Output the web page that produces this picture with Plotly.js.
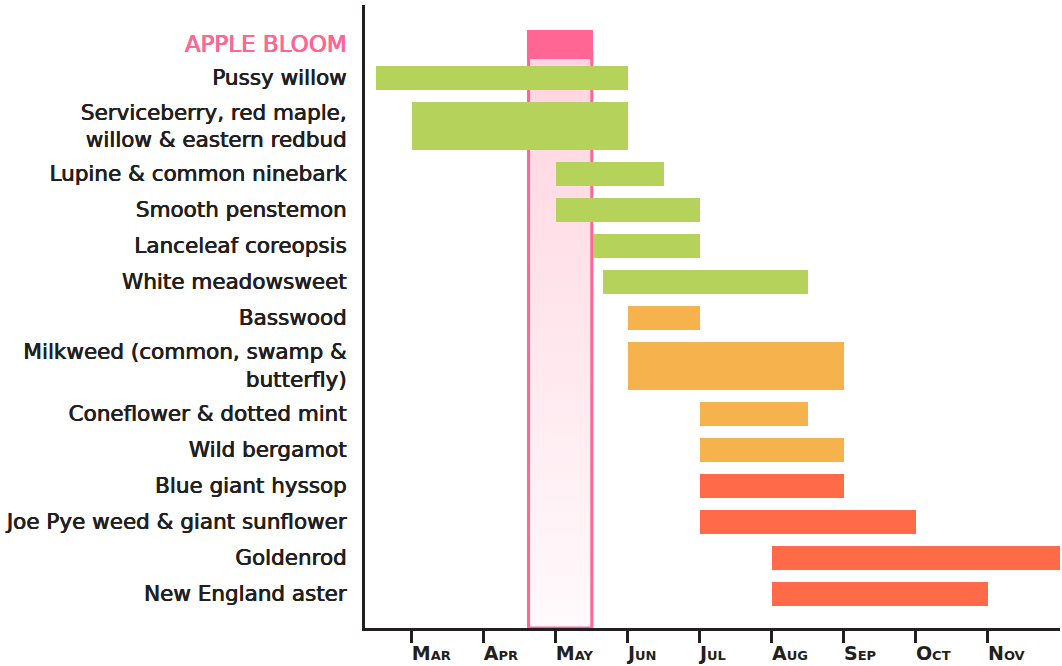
<!DOCTYPE html>
<html><head><meta charset="utf-8">
<script src="https://cdn.plot.ly/plotly-3.0.1.min.js"></script>
<style>html,body{margin:0;padding:0;background:#fff}</style>
</head><body>
<div id="chart" style="width:1062px;height:666px"></div>
<script>
// ---- data ----
const plants = [
  "APPLE BLOOM",
  "Pussy willow",
  "Serviceberry, red maple,<br>willow &amp; eastern redbud",
  "Lupine &amp; common ninebark",
  "Smooth penstemon",
  "Lanceleaf coreopsis",
  "White meadowsweet",
  "Basswood",
  "Milkweed (common, swamp &amp;<br>butterfly)",
  "Coneflower &amp; dotted mint",
  "Wild bergamot",
  "Blue giant hyssop",
  "Joe Pye weed &amp; giant sunflower",
  "Goldenrod",
  "New England aster"
];
// bloom period in months (3 = start of March)
const bloomStart = [4.6, 2.5, 3.0, 5.0, 5.0, 5.52, 5.66, 6.0, 6.0, 7.0, 7.0, 7.0, 7.0, 8.0, 8.0];
const bloomEnd   = [5.52, 6.0, 6.0, 6.5, 7.0, 7.0, 8.5, 7.0, 9.0, 8.5, 9.0, 9.0, 10.0, 12.0, 11.0];
const season     = ["apple","spring","spring","spring","spring","spring","spring","summer","summer","summer","summer","late","late","late","late"];
const monthVals  = [3, 4, 5, 6, 7, 8, 9, 10, 11];
const monthNames = ["Mar","Apr","May","Jun","Jul","Aug","Sep","Oct","Nov"];

// ---- styles ----
const colors = {apple:"#ff6694", spring:"#b5d25a", summer:"#f6b34d", late:"#ff6a48"};
const ink = "#231f20";
const fam = "DejaVu Sans, sans-serif";
const thick = col => `0.45px 0 0 ${col}, -0.25px 0 0 ${col}`;

// ---- layout of rows (lines per label -> row heights) ----
const nLines = plants.map(p => p.split("<br>").length);
const heights = [], centers = [];
let c = 0;
for (let i = 1; i < plants.length; i++) {
  const h = nLines[i];
  if (i === 1) c = 0; else c = c + heights[i-1]/2 + 0.5 + h/2;
  heights[i] = h; centers[i] = c;
}
heights[0] = 1.2;
centers[0] = centers[1] - heights[1]/2 - 0.3 - heights[0]/2;
const yRange = [22.92, -3.04];

const tickText = plants.map((p, i) => i === 0
  ? `<span style="color:${colors.apple};font-size:23px;text-shadow:${thick(colors.apple)}">${p}</span>`
  : p);
const monthText = monthNames.map(m => `${m[0]}<span style="font-size:13px">${m.slice(1).toUpperCase()}</span>`);

// apple bloom column (behind bars)
const inset = 1.5/72;
const colX0 = bloomStart[0] + inset, colX1 = bloomEnd[0] - inset;
const colTop = centers[0] + heights[0]/2 - 0.3;
const colBot = yRange[0];
const column = {
  type: "scatter", mode: "lines", xaxis: "x", yaxis: "y",
  x: [colX0, colX1, colX1, colX0, colX0],
  y: [colTop, colTop, colBot, colBot, colTop],
  fill: "toself",
  fillgradient: {type: "vertical", start: colTop, stop: colBot,
    colorscale: [[0, "#ffd4e0"], [1, "#fffafc"]]},
  line: {color: colors.apple, width: 3},
  hoverinfo: "skip", showlegend: false
};

const bars = {
  type: "bar", orientation: "h", xaxis: "x", yaxis: "y2",
  y: centers,
  base: bloomStart,
  x: bloomEnd.map((e, i) => e - bloomStart[i]),
  width: heights,
  marker: {color: season.map(s => colors[s]), line: {width: 0}},
  hoverinfo: "skip", showlegend: false
};

const layout = {
  width: 1062, height: 666,
  margin: {l: 365, r: 2, t: 5, b: 38},
  paper_bgcolor: "#fff", plot_bgcolor: "#fff",
  font: {family: fam, size: 21.5, color: ink},
  showlegend: false,
  xaxis: {
    range: [2.35, 12.0], tickvals: monthVals, ticktext: monthText,
    ticks: "outside", ticklen: 12, tickwidth: 3, tickcolor: ink,
    showline: true, linewidth: 3, linecolor: ink, showgrid: false, zeroline: false,
    ticklabelposition: "outside right", ticklabelstandoff: 6, ticklabelshift: -3,
    tickfont: {family: fam, size: 19, color: ink, weight: 700},
    fixedrange: true
  },
  yaxis: {
    range: yRange, tickvals: centers, ticktext: tickText,
    ticks: "", showline: true, linewidth: 3, linecolor: ink,
    showgrid: false, zeroline: false, ticklabelstandoff: 11,
    tickfont: {family: fam, size: 21.5, color: ink, weight: 400, shadow: thick(ink)},
    fixedrange: true
  },
  yaxis2: {
    range: yRange, overlaying: "y", side: "left", showticklabels: false,
    showgrid: false, zeroline: false, showline: false, ticks: "", fixedrange: true
  },
  bargap: 0
};

Plotly.newPlot("chart", [column, bars], layout, {displayModeBar: false, staticPlot: true});
</script>
</body></html>
